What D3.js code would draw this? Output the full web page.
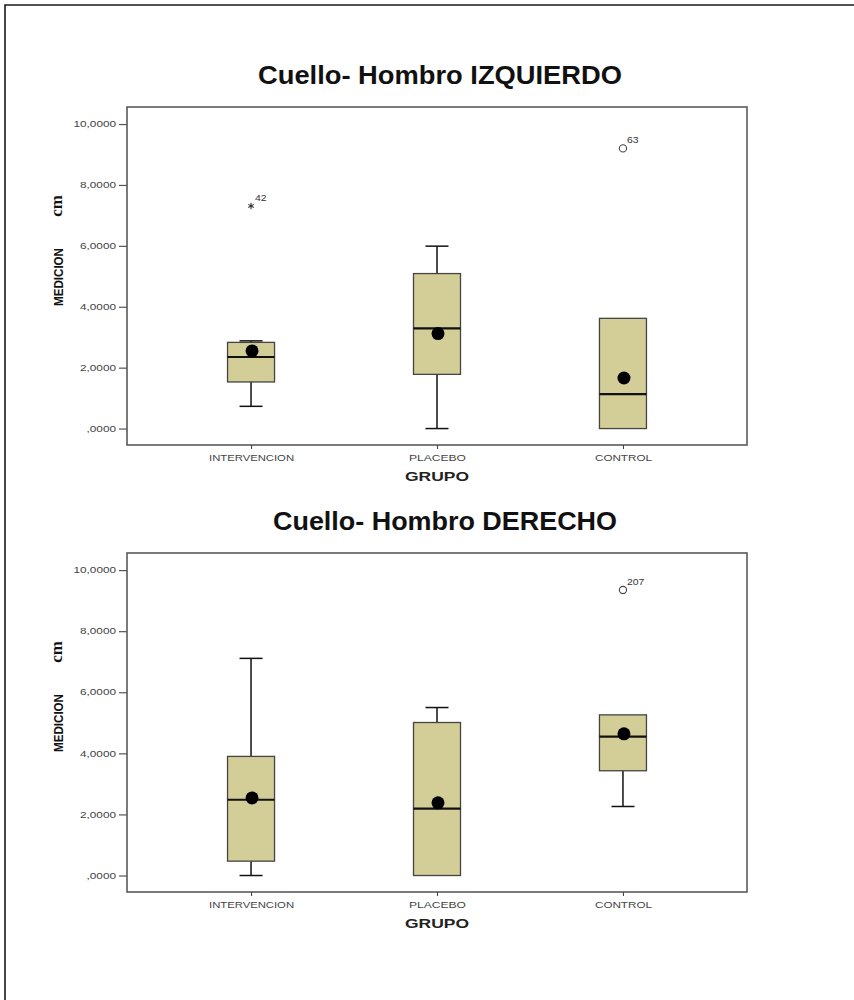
<!DOCTYPE html>
<html>
<head>
<meta charset="utf-8">
<script src="https://cdn.jsdelivr.net/npm/d3@7"></script>
<style>
  body { margin: 0; background: #fff; }
  svg { display: block; }
</style>
</head>
<body>
<svg id="chart" width="854" height="1000"></svg>
<script>
// Categories and axis ticks
const groups = ["INTERVENCION", "PLACEBO", "CONTROL"];
const yTickValues = [0, 2, 4, 6, 8, 10];

// Cuello-Hombro IZQUIERDO: box-plot statistics per group
const izqLow    = [0.73, 0.00, 0.00];
const izqQ1     = [1.53, 1.78, 0.00];
const izqMedian = [2.35, 3.29, 1.13];
const izqQ3     = [2.83, 5.09, 3.62];
const izqHigh   = [2.88, 5.99, 3.62];
const izqMean   = [2.55, 3.12, 1.66];
const izqOutliers = [
  { group: "INTERVENCION", value: 7.31, id: "42", kind: "extreme" },
  { group: "CONTROL",      value: 9.20, id: "63", kind: "outlier" }
];

// Cuello-Hombro DERECHO: box-plot statistics per group
const derLow    = [0.00, 0.00, 2.26];
const derQ1     = [0.47, 0.00, 3.43];
const derMedian = [2.48, 2.19, 4.55];
const derQ3     = [3.90, 5.01, 5.26];
const derHigh   = [7.11, 5.50, 5.26];
const derMean   = [2.54, 2.38, 4.64];
const derOutliers = [
  { group: "CONTROL", value: 9.35, id: "207", kind: "outlier" }
];

const panels = [
  { title: "Cuello- Hombro IZQUIERDO", titleWidth: 364, titleX: 440, top: 107, bottom: 445,
    low: izqLow, q1: izqQ1, median: izqMedian, q3: izqQ3, high: izqHigh, mean: izqMean, outliers: izqOutliers },
  { title: "Cuello- Hombro DERECHO", titleWidth: 344, titleX: 445, top: 553, bottom: 892,
    low: derLow, q1: derQ1, median: derMedian, q3: derQ3, high: derHigh, mean: derMean, outliers: derOutliers }
];

const svg = d3.select("#chart");
const FONT = "'Liberation Sans', Arial, sans-serif";
const left = 127, right = 747;
const boxW = 47, capW = 23;
const boxFill = "#d3ce97";

// Page frame (top and left edges)
svg.append("path")
  .attr("d", "M5,1000 V5 H854")
  .attr("fill", "none").attr("stroke", "#1a1a1a").attr("stroke-width", 1.6);

const fmt = d => (d === 0 ? "" : String(d)) + ",0000";
const labelWidth = s => s.split("").reduce((w, c) => w + (c === "," ? 3.5 : 6.5), 0);

panels.forEach(p => {
  const g = svg.append("g");
  const x = d3.scalePoint().domain(groups).range([left, right]).padding(0.667);
  const y = d3.scaleLinear().domain([-0.54, 10.56]).range([p.bottom, p.top]);

  // Title
  g.append("text")
    .attr("x", p.titleX).attr("y", p.top - 23)
    .attr("text-anchor", "middle")
    .attr("font-family", FONT).attr("font-weight", "bold").attr("font-size", 25)
    .attr("textLength", p.titleWidth).attr("lengthAdjust", "spacingAndGlyphs")
    .attr("fill", "#111")
    .text(p.title);

  // Plot frame
  g.append("rect")
    .attr("x", left).attr("y", p.top)
    .attr("width", right - left).attr("height", p.bottom - p.top)
    .attr("fill", "#fff").attr("stroke", "#5a5a5a").attr("stroke-width", 1.6);

  const rows = groups.map((grp, i) => ({
    grp, low: p.low[i], q1: p.q1[i], median: p.median[i], q3: p.q3[i], high: p.high[i], mean: p.mean[i]
  }));

  // Whiskers and caps
  rows.forEach(r => {
    const cx = x(r.grp);
    if (r.high > r.q3) {
      g.append("line").attr("x1", cx).attr("x2", cx).attr("y1", y(r.q3)).attr("y2", y(r.high))
        .attr("stroke", "#111").attr("stroke-width", 1.5);
      g.append("line").attr("x1", cx - capW / 2).attr("x2", cx + capW / 2).attr("y1", y(r.high)).attr("y2", y(r.high))
        .attr("stroke", "#111").attr("stroke-width", 1.5);
    }
    if (r.low < r.q1) {
      g.append("line").attr("x1", cx).attr("x2", cx).attr("y1", y(r.q1)).attr("y2", y(r.low))
        .attr("stroke", "#111").attr("stroke-width", 1.5);
      g.append("line").attr("x1", cx - capW / 2).attr("x2", cx + capW / 2).attr("y1", y(r.low)).attr("y2", y(r.low))
        .attr("stroke", "#111").attr("stroke-width", 1.5);
    }
  });

  // Boxes
  g.selectAll("rect.box").data(rows).join("rect")
    .attr("class", "box")
    .attr("x", d => x(d.grp) - boxW / 2)
    .attr("y", d => y(d.q3))
    .attr("width", boxW)
    .attr("height", d => y(d.q1) - y(d.q3))
    .attr("fill", boxFill).attr("stroke", "#444").attr("stroke-width", 1.3);

  // Medians
  g.selectAll("line.median").data(rows).join("line")
    .attr("class", "median")
    .attr("x1", d => x(d.grp) - boxW / 2).attr("x2", d => x(d.grp) + boxW / 2)
    .attr("y1", d => y(d.median)).attr("y2", d => y(d.median))
    .attr("stroke", "#111").attr("stroke-width", 2.2);

  // Means
  g.selectAll("circle.mean").data(rows).join("circle")
    .attr("class", "mean")
    .attr("cx", d => x(d.grp) + 1).attr("cy", d => y(d.mean))
    .attr("r", 6.5).attr("fill", "#000");

  // Outliers and their case labels
  p.outliers.forEach(o => {
    const ox = x(o.group), oy = y(o.value);
    if (o.kind === "extreme") {
      g.append("path")
        .attr("transform", `translate(${ox},${oy})`)
        .attr("d", d3.symbol(d3.symbolAsterisk, 28)())
        .attr("fill", "none").attr("stroke", "#333").attr("stroke-width", 1.1);
    } else {
      g.append("circle").attr("cx", ox).attr("cy", oy).attr("r", 3.6)
        .attr("fill", "none").attr("stroke", "#444").attr("stroke-width", 1.1);
    }
    g.append("text")
      .attr("x", ox + 4).attr("y", oy - 5)
      .attr("font-family", FONT).attr("font-size", 9).attr("fill", "#333")
      .attr("textLength", o.id.length * 5.8).attr("lengthAdjust", "spacingAndGlyphs")
      .text(o.id);
  });

  // Y axis
  const ya = g.append("g").attr("transform", `translate(${left},0)`)
    .call(d3.axisLeft(y).tickValues(yTickValues).tickSize(8).tickPadding(3).tickFormat(fmt));
  ya.select(".domain").remove();
  ya.selectAll(".tick line").attr("stroke", "#555").attr("stroke-width", 1.2);
  ya.selectAll(".tick text")
    .attr("font-family", FONT).attr("font-size", 8.5).attr("fill", "#444")
    .attr("textLength", d => labelWidth(fmt(d))).attr("lengthAdjust", "spacingAndGlyphs");

  // X axis
  const xa = g.append("g").attr("transform", `translate(0,${p.bottom})`)
    .call(d3.axisBottom(x).tickSize(4).tickPadding(6));
  xa.select(".domain").remove();
  xa.selectAll(".tick line").attr("stroke", "#444").attr("stroke-width", 1.1);
  const xLabelWidth = { INTERVENCION: 85, PLACEBO: 57, CONTROL: 57 };
  xa.selectAll(".tick text")
    .attr("y", 10).attr("dy", "0.71em")
    .attr("font-family", FONT).attr("font-size", 8.5).attr("fill", "#444")
    .attr("textLength", d => xLabelWidth[d]).attr("lengthAdjust", "spacingAndGlyphs");

  // X axis title
  g.append("text")
    .attr("x", 437).attr("y", p.bottom + 36)
    .attr("text-anchor", "middle")
    .attr("font-family", FONT).attr("font-weight", "bold").attr("font-size", 12)
    .attr("textLength", 64).attr("lengthAdjust", "spacingAndGlyphs")
    .attr("fill", "#222")
    .text("GRUPO");

  // Y axis title: MEDICION plus unit
  const midY = p.top + 170;
  g.append("text")
    .attr("transform", `translate(63,${midY}) rotate(-90)`)
    .attr("text-anchor", "middle")
    .attr("font-family", FONT).attr("font-weight", "bold").attr("font-size", 12)
    .attr("textLength", 58).attr("lengthAdjust", "spacingAndGlyphs")
    .attr("fill", "#111")
    .text("MEDICION");
  g.append("text")
    .attr("transform", `translate(62,${p.top + 99}) rotate(-90)`)
    .attr("text-anchor", "middle")
    .attr("font-family", "'Liberation Serif', 'Times New Roman', serif")
    .attr("font-weight", "bold").attr("font-size", 17)
    .attr("fill", "#111")
    .text("cm");
});
</script>
</body>
</html>
